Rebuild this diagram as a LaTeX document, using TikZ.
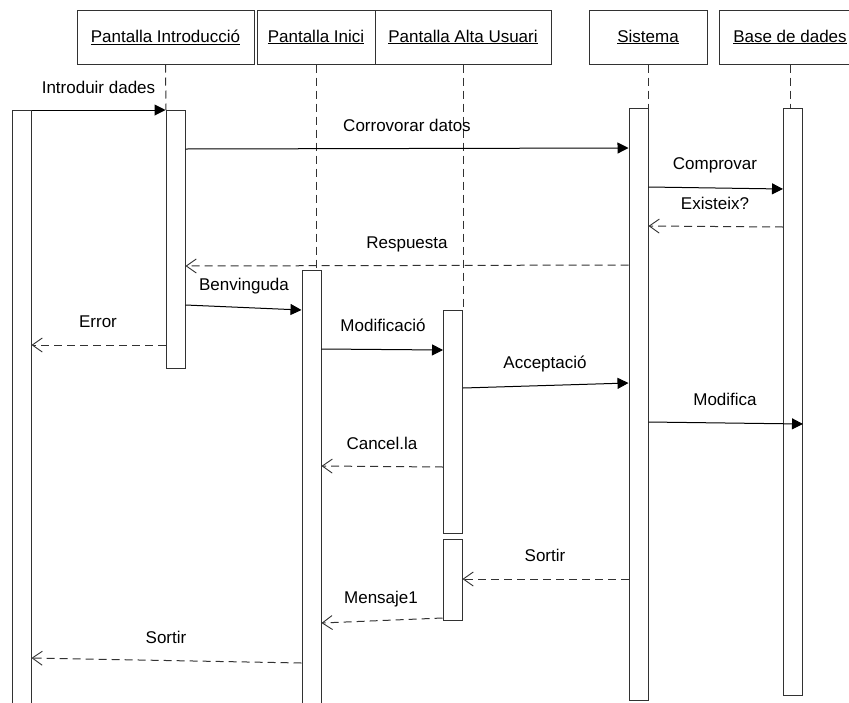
\documentclass[tikz,border=0pt]{standalone}
\usepackage{fontspec}
\setmainfont{Liberation Sans}
\usetikzlibrary{arrows.meta}
\definecolor{L}{RGB}{50, 50, 50}

\begin{document}
\begin{tikzpicture}[x=1pt,y=-1pt,
  capsa/.style={draw=L, line width=1pt, minimum height=54pt, inner sep=0pt, font=\fontsize{17}{20}\selectfont},
  act/.style={draw=L, fill=white, line width=1pt, minimum width=19pt, anchor=north, inner sep=0pt},
  vida/.style={draw=L, line width=1pt, dash pattern=on 8pt off 5pt},
  msg/.style={line width=1pt, -{Triangle[length=11pt,width=11pt]}},
  ret/.style={draw=L, line width=1pt, dash pattern=on 8pt off 5pt, -{Straight Barb[length=10pt,width=14pt,line width=0.9pt]}},
  etiq/.style={anchor=base, inner sep=0pt, font=\fontsize{17}{20}\selectfont}]
  \useasboundingbox (0,0) rectangle (849,702);

  %# CAPCALERES
  \node[capsa, minimum width=177pt] (hIntro) at (165.5,37) {\underline{Pantalla Introducció}};
  \node[capsa, minimum width=118pt] (hInici) at (316,37) {\underline{Pantalla Inici}};
  \node[capsa, minimum width=176pt] (hAlta) at (463,37) {\underline{Pantalla Alta Usuari}};
  \node[capsa, minimum width=118pt] (hSis) at (648,37) {\underline{Sistema}};
  \node[capsa, minimum width=142pt] (hBase) at (790,37) {\underline{Base de dades}};

  %# LINIES DE VIDA
  \draw[vida] (hIntro.south) -- (166,110);
  \draw[vida] (hInici.south) -- (316,270);
  \draw[vida] (hAlta.south) -- (463,310);
  \draw[vida] (hSis.south) -- (648,108);
  \draw[vida] (hBase.south) -- (790,108);

  %# ACTIVACIONS
  \node[act, minimum height=600pt] (aUser) at (21.5,110) {};
  \node[act, minimum height=258pt] (aIntro) at (175.5,110) {};
  \node[act, minimum height=440pt] (aInici) at (311.5,270) {};
  \node[act, minimum height=223pt] (aAlta) at (453,310) {};
  \node[act, minimum height=81pt] (aAlta2) at (452.5,539) {};
  \node[act, minimum height=592pt] (aSis) at (638.5,108) {};
  \node[act, minimum height=587pt] (aBase) at (793,108) {};

  %# MISSATGES
  \draw[msg] (aUser.north east) -- (aIntro.north west);
  \node[etiq] (tIntro) at (98.5,93) {Introduir dades};

  \draw[msg] (aIntro.east |- 0,149) -- (aSis.west |- 0,148);
  \node[etiq] (tCorr) at (407,131) {Corrovorar datos};

  \draw[msg] (aSis.east |- 0,187) -- (aBase.west |- 0,189);
  \node[etiq] (tComp) at (715,169) {Comprovar};

  \draw[ret] (aBase.west |- 0,227) -- (aSis.east |- 0,226);
  \node[etiq] (tExis) at (715,209) {Existeix?};

  \draw[ret] (aSis.west |- 0,265) -- (aIntro.east |- 0,266);
  \node[etiq] (tResp) at (407,248) {Respuesta};

  \draw[msg] (aIntro.east |- 0,305) -- (aInici.west |- 0,310);
  \node[etiq] (tBenv) at (244,290) {Benvinguda};

  \draw[ret] (aIntro.west |- 0,345) -- (aUser.east |- 0,345);
  \node[etiq] (tErr) at (98,327) {Error};

  \draw[msg] (aInici.east |- 0,349) -- (aAlta.west |- 0,350);
  \node[etiq] (tModi) at (383,331) {Modificació};

  \draw[msg] (aAlta.east |- 0,388) -- (aSis.west |- 0,383);
  \node[etiq] (tAcc) at (545,368) {Acceptació};

  \draw[msg] (aSis.east |- 0,422) -- (aBase.east |- 0,424);
  \node[etiq] (tMod) at (725,405) {Modifica};

  \draw[ret] (aAlta.west |- 0,467) -- (aInici.east |- 0,466);
  \node[etiq] (tCanc) at (382,449) {Cancel.la};

  \draw[ret] (aSis.west |- 0,579) -- (aAlta2.east |- 0,579);
  \node[etiq] (tSort) at (545,561) {Sortir};

  \draw[ret] (aAlta2.west |- 0,618) -- (aInici.east |- 0,623);
  \node[etiq] (tMens) at (381,603) {Mensaje1};

  \draw[ret] (aInici.west |- 0,663) -- (aUser.east |- 0,658);
  \node[etiq] (tSort2) at (166,643) {Sortir};
\end{tikzpicture}
\end{document}
